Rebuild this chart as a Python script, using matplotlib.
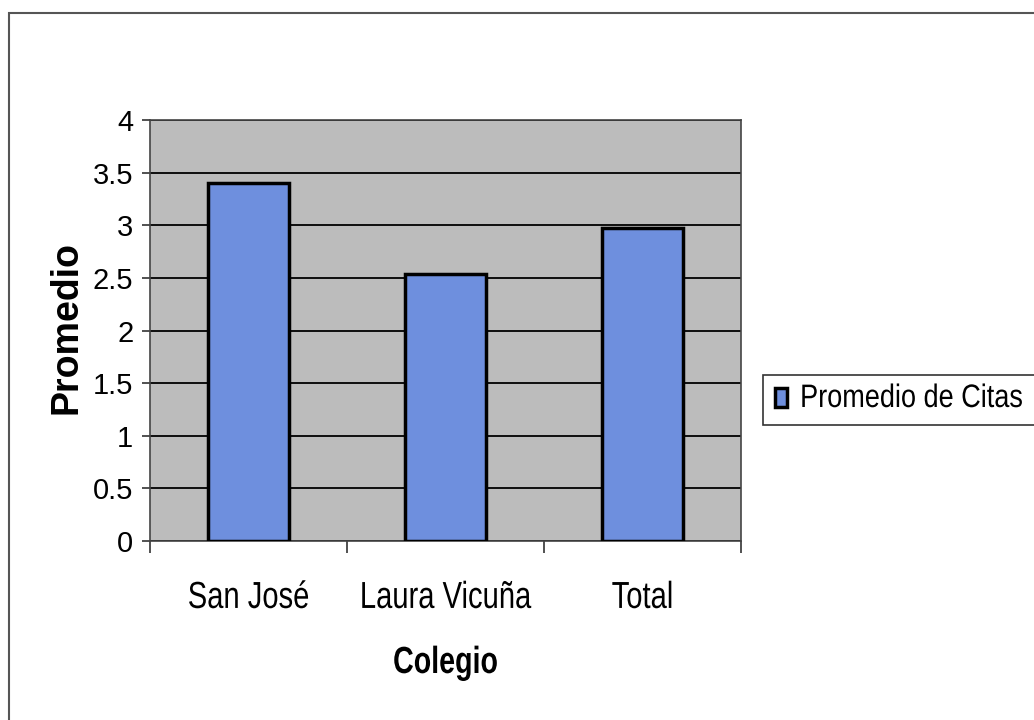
import matplotlib.pyplot as plt
from matplotlib.patches import Rectangle
from matplotlib.patheffects import AbstractPathEffect
from matplotlib.transforms import Affine2D

colegios = ["San José", "Laura Vicuña", "Total"]
promedio_citas = [3.4, 2.54, 2.97]
y_ticks = [0, 0.5, 1, 1.5, 2, 2.5, 3, 3.5, 4]

W, H = 1034, 720
font = ["Liberation Sans", "DejaVu Sans"]


class Stretch(AbstractPathEffect):
    """Scale glyphs vertically about the baseline (mimics the condensed scan font)."""
    def __init__(self, sy):
        super().__init__()
        self.sy = sy

    def draw_path(self, renderer, gc, tpath, affine, rgbFace=None):
        renderer.draw_path(gc, tpath, Affine2D().scale(1, self.sy) + affine, rgbFace)


fig = plt.figure(figsize=(W / 100, H / 100), dpi=100)
ax = fig.add_axes([150 / W, 1 - 541 / H, 591 / W, 421 / H])
ax.set_facecolor("#bcbcbc")

pos = list(range(len(colegios)))
ax.bar(pos, promedio_citas, width=0.41, color="#6e8fde", edgecolor="black",
       linewidth=2.5, label="Promedio de Citas", zorder=3)

ax.set_xlim(-0.5, len(colegios) - 0.5)
ax.set_ylim(0, 4)
ax.set_yticks(y_ticks)
ax.set_yticklabels([f"{v:g}" for v in y_ticks], family=font, fontsize=21)
ax.yaxis.grid(True, color="black", linewidth=1.3, zorder=1)
ax.set_axisbelow(True)

# tick marks between the categories, names centred under the bars
ax.set_xticks([p - 0.5 for p in pos] + [pos[-1] + 0.5])
ax.set_xticklabels([])
ax.set_xticks(pos, minor=True)
ax.set_xticklabels(colegios, minor=True, family=font, fontsize=21)
ax.tick_params(axis="x", which="major", length=8.6, width=1.2, color="#333333")
ax.tick_params(axis="x", which="minor", length=0, pad=48.2)
ax.tick_params(axis="y", length=5.8, width=1.2, color="#333333", pad=6.2)
for t in ax.xaxis.get_minor_ticks():
    t.label1.set_verticalalignment("baseline")
    t.label1.set_path_effects([Stretch(1.29)])

for s in ax.spines.values():
    s.set_color("#444444")
    s.set_linewidth(1.2)

ax.set_xlabel("Colegio", family=font, fontsize=20.6, fontweight="bold",
              va="baseline", path_effects=[Stretch(1.32)])
ax.xaxis.set_label_coords(0.5, (541 - 673) / 421)
ax.set_ylabel("Promedio", family=font, fontsize=27, fontweight="bold", va="center")
ax.yaxis.set_label_coords((67 - 150) / 591, 0.507)

leg = ax.legend(loc="center left", bbox_to_anchor=(763 / W, 1 - 400 / H),
                bbox_transform=fig.transFigure, prop={"family": font, "size": 19.5},
                fancybox=False, framealpha=1, edgecolor="#333333",
                handlelength=0.42, handleheight=0.7, handletextpad=0.5,
                borderpad=0.45, borderaxespad=0)
leg.get_frame().set_linewidth(1.2)
for txt in leg.get_texts():
    txt.set_path_effects([Stretch(1.2)])

# scanned page frame: only its top and left edges fall inside the image
fig.patches.append(Rectangle((9 / W, -0.1), 1.2, 1 - 13 / H + 0.1,
                             transform=fig.transFigure, fill=False,
                             edgecolor="#555555", linewidth=1.5))

fig.savefig("out.png", dpi=100)
